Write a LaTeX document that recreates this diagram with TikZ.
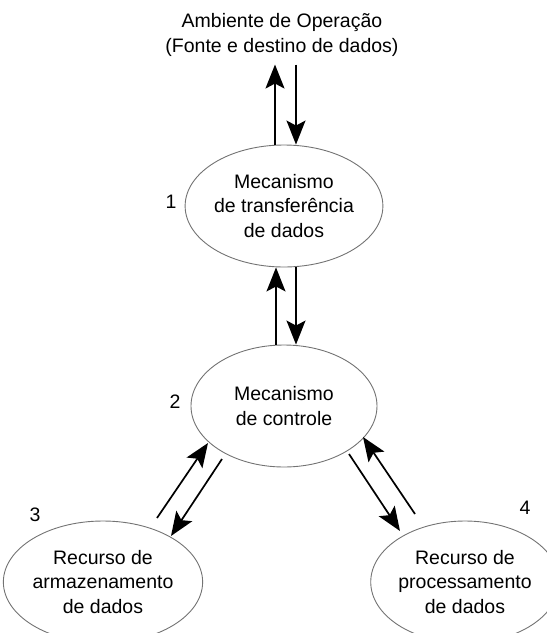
\documentclass[tikz,border=0pt]{standalone}
\usepackage{fontspec}
\setmainfont{Liberation Sans}
\usetikzlibrary{arrows.meta}
\usetikzlibrary{shapes.geometric}

\begin{document}
\begin{tikzpicture}[x=1pt, y=-1pt,
	bloco/.style={ellipse, draw=black!55, line width=0.9pt, minimum width=186pt, minimum height=122pt, inner sep=0pt, align=center, font=\fontsize{19.5}{24.5}\selectfont},
	rotulo/.style={font=\fontsize{19.5}{24.5}\selectfont},
	seta/.style={-{Stealth[length=24pt, width=19pt, inset=5pt]}, line width=1.7pt}]
			\useasboundingbox (0,0) rectangle (547,633);
			\clip (0,0) rectangle (547,633);
			\node[rotulo, align=center, inner xsep=0pt, inner ysep=8pt] (amb) at (282,35) {Ambiente de Operação\\(Fonte e destino de dados)};
			\foreach \x/\y/\nome/\texto in {284/206/transf/{Mecanismo\\de transferência\\de dados}, 284/406/ctrl/{Mecanismo\\de controle}, 103/582/armaz/{Recurso de\\armazenamento\\de dados}, 465/582/proc/{Recurso de\\processamento\\de dados}}
			{
				\node[bloco] (\nome) at (\x,\y) {\texto};
			}
			\foreach \x/\y/\n in {171/202/1, 175/402/2, 35/515/3, 525/508/4}
			{
				\node[rotulo] (n\n) at (\x,\y) {\n};
			}
			\draw[seta] ([xshift=-9pt]transf.north) -- ([xshift=-7pt]amb.south);
			\draw[seta] ([xshift=14pt]amb.south) -- ([xshift=12pt]transf.north);
			\draw[seta] ([xshift=-8pt]ctrl.north) -- ([xshift=-8pt]transf.south);
			\draw[seta] ([xshift=12pt]transf.south) -- ([xshift=12pt]ctrl.north);
			\draw[seta] ([shift={(54,-64)}]armaz.center) -- ([shift={(-76,37)}]ctrl.center);
			\draw[seta] ([shift={(-62,53)}]ctrl.center) -- ([shift={(68,-46)}]armaz.center);
			\draw[seta] ([shift={(65,48)}]ctrl.center) -- ([shift={(-65,-51)}]proc.center);
			\draw[seta] ([shift={(-50,-68)}]proc.center) -- ([shift={(79,31)}]ctrl.center);
		\end{tikzpicture}
\end{document}
